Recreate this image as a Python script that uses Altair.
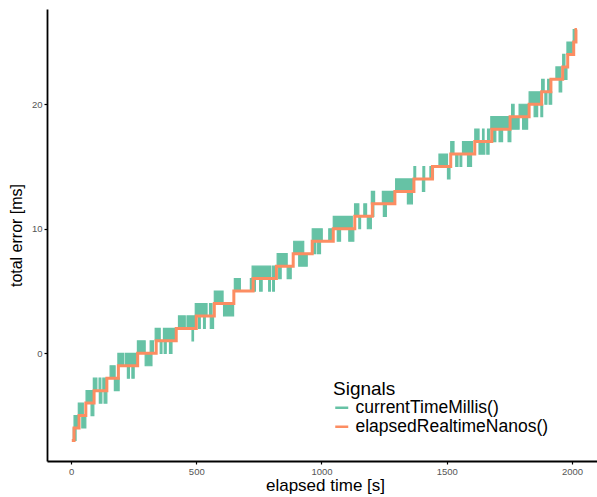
import altair as alt
import pandas as pd

# elapsedRealtimeNanos(): step changes (time [s], total error [ms])
step_time = [3, 12, 32, 59, 92, 143, 189, 266, 340, 420, 500, 572, 650, 727, 820, 887,
             963, 1047, 1133, 1203, 1293, 1369, 1443, 1516, 1612, 1680, 1753, 1829,
             1879, 1916, 1963, 1983, 2007, 2016, 2020]
step_error = [-7, -6, -5, -4, -3, -2, -1, 0, 1, 2, 3, 4, 5, 6, 7, 8,
              9, 10, 11, 12, 13, 14, 15, 16, 17, 18, 19, 20,
              21, 22, 23, 24, 25, 26, 26]

# currentTimeMillis(): stretches where the signal flickers between two adjacent ms levels
flicker_start = [9, 12, 29, 43, 60, 80, 89, 112, 127, 113, 132, 156, 173, 187, 216, 225, 243,
                 265, 296, 316, 336, 369, 356, 372, 393, 429, 463, 483, 496, 509, 529, 556, 553,
                 572, 609, 652, 716, 723, 729, 753, 789, 805, 803, 823, 829, 863, 889, 909,
                 963, 1029, 969, 983, 1047, 1063, 1109, 1132, 1169, 1149, 1183, 1199, 1243,
                 1203, 1247, 1296, 1343, 1369, 1405, 1403, 1433, 1469, 1503, 1516, 1563, 1536,
                 1553, 1583, 1612, 1643, 1663, 1629, 1660, 1676, 1687, 1709, 1745, 1759, 1789,
                 1759, 1803, 1829, 1849, 1876, 1879, 1903, 1892, 1909, 1936, 1949, 1963, 1969,
                 1980, 2005]
flicker_end = [20, 29, 49, 59, 89, 91, 103, 119, 137, 123, 143, 176, 192, 209, 263, 233, 252,
               296, 323, 329, 356, 416, 363, 380, 403, 456, 496, 489, 543, 516, 536, 569, 563,
               607, 649, 676, 729, 796, 736, 763, 796, 812, 816, 863, 839, 879, 929, 943,
               1003, 1043, 976, 996, 1123, 1076, 1129, 1149, 1180, 1156, 1199, 1212, 1289,
               1209, 1259, 1363, 1363, 1376, 1412, 1412, 1447, 1503, 1513, 1529, 1603, 1545,
               1560, 1599, 1629, 1649, 1672, 1652, 1669, 1749, 1696, 1723, 1756, 1769, 1823,
               1789, 1823, 1876, 1863, 1883, 1889, 1913, 1900, 1919, 1956, 1959, 1972, 1980,
               2003, 2016]
flicker_low = [-7, -6, -5, -6, -4, -5, -3, -3, -3, -4, -4, -2, -3, -1, -1, -2, -2,
               0, -1, 0, 1, 1, 0, 0, 0, 2, 2, 1, 3, 2, 2, 2, 3,
               4, 3, 5, 5, 6, 5, 5, 5, 5, 6, 7, 6, 6, 8, 7,
               9, 9, 8, 8, 10, 9, 9, 11, 11, 10, 10, 12, 12,
               11, 11, 13, 12, 14, 14, 13, 14, 15, 14, 16, 16, 15,
               15, 15, 17, 17, 17, 16, 16, 18, 17, 17, 17, 19, 19,
               18, 18, 20, 19, 19, 21, 21, 20, 20, 22, 21, 23, 22,
               24, 25]

x_ticks = [0, 500, 1000, 1500, 2000]
y_ticks = [0, 10, 20]
series_names = ["currentTimeMillis()", "elapsedRealtimeNanos()"]
series_colors = ["#66c2a5", "#fc8d62"]

steps = pd.DataFrame({"t": step_time, "err": step_error, "signal": series_names[1]})
blocks = pd.DataFrame({"t0": flicker_start, "t1": flicker_end, "lo": flicker_low})
blocks["hi"] = blocks["lo"] + 1

FONT = "Liberation Sans"
xscale = alt.Scale(domain=[-96, 2100], nice=False, zero=False)
yscale = alt.Scale(domain=[-8.65, 27.65], nice=False, zero=False)

x_axis = alt.Axis(values=x_ticks, format="d", title="elapsed time [s]", grid=False,
                  domainColor="black", domainWidth=1.8, tickColor="black", tickSize=3,
                  tickWidth=1.2, labelColor="#555555", labelFontSize=9.5, labelPadding=2,
                  labelFont=FONT, titleFont=FONT, titleFontSize=17, titleFontWeight="normal",
                  titleColor="black", titleX=278, titleY=29, titleBaseline="alphabetic",
                  titleAlign="center", labelFlush=False)
y_axis = alt.Axis(values=y_ticks, format="d", title="total error [ms]", grid=False,
                  domainColor="black", domainWidth=1.8, tickColor="black", tickSize=3,
                  tickWidth=1.2, labelColor="#555555", labelFontSize=9.5, labelPadding=2,
                  labelFont=FONT, titleFont=FONT, titleFontSize=16, titleFontWeight="normal",
                  titleColor="black", titleAngle=270, titleX=-26, titleY=226,
                  titleBaseline="alphabetic", titleAlign="center", labelFlush=False)

flicker = alt.Chart(blocks).mark_rect(color=series_colors[0], stroke=series_colors[0],
                                      strokeWidth=1.2).encode(
    x=alt.X("t0:Q", scale=xscale, axis=x_axis),
    x2="t1:Q",
    y=alt.Y("lo:Q", scale=yscale, axis=y_axis),
    y2="hi:Q",
)

line = alt.Chart(steps).mark_line(interpolate="step-after", strokeWidth=3).encode(
    x=alt.X("t:Q", scale=xscale, axis=x_axis),
    y=alt.Y("err:Q", scale=yscale, axis=y_axis),
    color=alt.Color("signal:N",
                    scale=alt.Scale(domain=series_names, range=series_colors),
                    legend=alt.Legend(title="Signals", orient="none", legendX=286, legendY=371,
                                      titleFont=FONT, titleFontSize=19,
                                      titleFontWeight="normal", titleColor="black",
                                      labelFont=FONT, labelFontSize=17.5, labelColor="black",
                                      labelLimit=0,
                                      symbolType="stroke", symbolSize=169,
                                      symbolStrokeWidth=2.5, labelOffset=5, rowPadding=0,
                                      titlePadding=0, padding=0)),
)

chart = alt.layer(flicker, line).properties(
    width=550, height=452,
    autosize=alt.AutoSizeParams(type="none"),
    padding={"left": 47, "top": 9, "right": 0, "bottom": 36},
).configure(font=FONT).configure_view(stroke=None)

chart.save("out.html", embed_options={"renderer": "svg", "actions": False})
